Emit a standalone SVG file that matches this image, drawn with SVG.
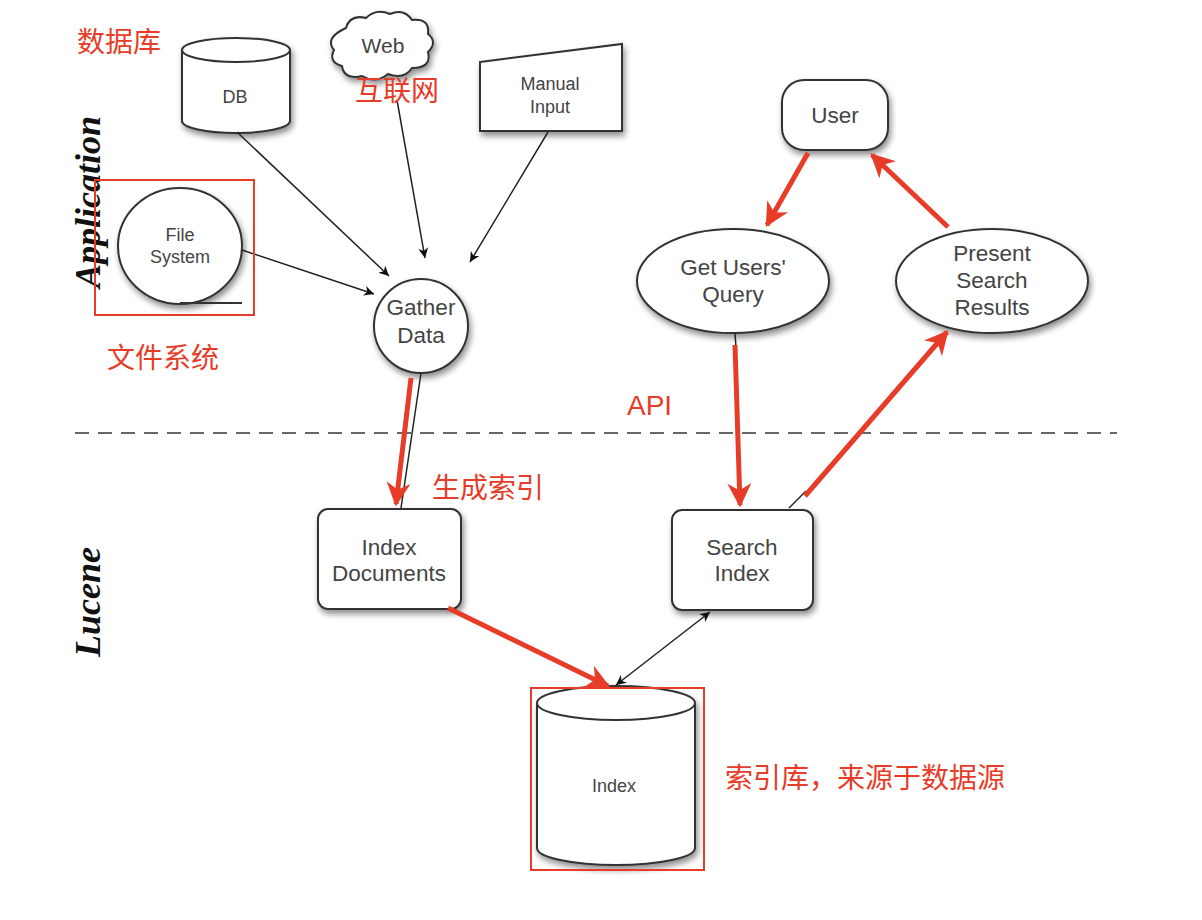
<svg xmlns="http://www.w3.org/2000/svg" width="1202" height="920" viewBox="0 0 1202 920">
<style>
.n{fill:#fff;stroke:#333;stroke-width:2;filter:url(#sh)}
.t{font-family:"Liberation Sans",Arial,sans-serif;fill:#444;text-anchor:middle}
.s{font-size:18px}
.m{font-size:22.5px}
.r{font-family:"Liberation Sans","Noto Sans CJK SC",sans-serif;fill:#e63c28;font-size:28px}
.lane{font-family:"Liberation Serif",serif;font-style:italic;font-weight:bold;font-size:36px;fill:#111;text-anchor:middle}
.k{stroke:#222;stroke-width:1.5;fill:none}
.rd{stroke:#e63c28;stroke-width:5;fill:none}
.box{fill:none;stroke:#e63c28;stroke-width:2}
</style>
<defs>
<filter id="sh" x="-20%" y="-20%" width="150%" height="150%">
<feGaussianBlur in="SourceAlpha" stdDeviation="3"/>
<feOffset dx="2" dy="4" result="b"/>
<feComponentTransfer><feFuncA type="linear" slope="0.45"/></feComponentTransfer>
<feMerge><feMergeNode/><feMergeNode in="SourceGraphic"/></feMerge>
</filter>
<marker id="ak" viewBox="0 0 10 10" refX="10" refY="5" markerWidth="10" markerHeight="10" markerUnits="userSpaceOnUse" orient="auto-start-reverse"><path d="M0,0 L10,5 L0,10 L3,5 z" fill="#111"/></marker>
<marker id="ar" viewBox="0 0 10 10" refX="9" refY="5" markerWidth="24" markerHeight="24" markerUnits="userSpaceOnUse" orient="auto"><path d="M0,0 L10,5 L0,10 L3,5 z" fill="#e63c28"/></marker>
</defs>
<rect width="1202" height="920" fill="#fff"/>

<text class="lane" transform="translate(100,202) rotate(-90)">Application</text>
<text class="lane" transform="translate(100,602) rotate(-90)">Lucene</text>
<line x1="75" y1="433" x2="1117" y2="433" stroke="#666" stroke-width="2" stroke-dasharray="14,9"/>

<g id="db">
<path class="n" d="M182,50 v71 a54,12 0 0 0 108,0 v-71 a54,12 0 0 0 -108,0 z"/>
<path d="M182,50 a54,12 0 0 0 108,0" fill="none" stroke="#333" stroke-width="2"/>
<text class="t s" x="235" y="103">DB</text>
</g>
<g id="web">
<path class="n" d="M346,28 q4,-14 20,-10 q10,-10 24,-4 q14,-6 22,6 q18,-2 16,14 q10,8 0,18 q4,16 -16,16 q-8,12 -24,6 q-12,10 -26,2 q-18,4 -20,-10 q-14,-4 -8,-16 q-10,-12 12,-22 z"/>
<text class="t" x="383" y="53" font-size="21">Web</text>
</g>
<g id="manual">
<path class="n" d="M480,62 L622,44 L622,131 L480,131 z"/>
<text class="t s" x="550" y="90">Manual</text>
<text class="t s" x="550" y="113">Input</text>
</g>
<g id="filesystem">
<ellipse class="n" cx="180" cy="246" rx="62" ry="58"/>
<line x1="180" y1="303" x2="242" y2="303" stroke="#333" stroke-width="2"/>
<text class="t s" x="180" y="241">File</text>
<text class="t s" x="180" y="263">System</text>
</g>
<g id="gather">
<circle class="n" cx="421" cy="326" r="47"/>
<text class="t m" x="421" y="315">Gather</text>
<text class="t m" x="421" y="343">Data</text>
</g>
<g id="user">
<rect class="n" x="782" y="80" width="106" height="70" rx="22"/>
<text class="t m" x="835" y="123">User</text>
</g>
<g id="getquery">
<ellipse class="n" cx="733" cy="281" rx="96" ry="52"/>
<text class="t m" x="733" y="275">Get Users'</text>
<text class="t m" x="733" y="302">Query</text>
</g>
<g id="present">
<ellipse class="n" cx="992" cy="281" rx="96" ry="52"/>
<text class="t m" x="992" y="261">Present</text>
<text class="t m" x="992" y="288">Search</text>
<text class="t m" x="992" y="315">Results</text>
</g>
<g id="indexdocs">
<rect class="n" x="318" y="509" width="143" height="100" rx="10"/>
<text class="t m" x="389" y="555">Index</text>
<text class="t m" x="389" y="581">Documents</text>
</g>
<g id="searchindex">
<rect class="n" x="672" y="510" width="141" height="100" rx="10"/>
<text class="t m" x="742" y="555">Search</text>
<text class="t m" x="742" y="581">Index</text>
</g>
<g id="index">
<path class="n" d="M537,703 v145 a79,17 0 0 0 158,0 v-145 a79,17 0 0 0 -158,0 z"/>
<path d="M537,703 a79,17 0 0 0 158,0" fill="none" stroke="#333" stroke-width="2"/>
<text class="t s" x="614" y="792">Index</text>
</g>

<g id="connectors">
<line class="k" x1="237" y1="132" x2="389" y2="276" marker-end="url(#ak)"/>
<line class="k" x1="397" y1="100" x2="425" y2="258" marker-end="url(#ak)"/>
<line class="k" x1="548" y1="132" x2="470" y2="262" marker-end="url(#ak)"/>
<line class="k" x1="242" y1="250" x2="374" y2="294" marker-end="url(#ak)"/>
<line class="k" x1="421" y1="373" x2="401" y2="508"/>
<line class="rd" x1="411" y1="378" x2="396" y2="504" marker-end="url(#ar)"/>
<line class="rd" x1="808" y1="153" x2="767" y2="225" marker-end="url(#ar)"/>
<line class="rd" x1="948" y1="227" x2="872" y2="155" marker-end="url(#ar)"/>
<line class="k" x1="735" y1="333" x2="736" y2="348"/>
<line class="rd" x1="735" y1="345" x2="740" y2="505" marker-end="url(#ar)"/>
<line class="k" x1="789" y1="508" x2="806" y2="491"/>
<line class="rd" x1="805" y1="496" x2="947" y2="332" marker-end="url(#ar)"/>
<line class="rd" x1="448" y1="608" x2="608" y2="686" marker-end="url(#ar)"/>
<line class="k" x1="710" y1="612" x2="616" y2="685" marker-start="url(#ak)" marker-end="url(#ak)"/>
</g>

<rect class="box" x="95" y="180" width="159" height="135"/>
<rect class="box" x="531" y="688" width="173" height="182"/>

<text class="r" x="77" y="52">数据库</text>
<text class="r" x="355" y="101">互联网</text>
<text class="r" x="107" y="368">文件系统</text>
<text class="r" x="627" y="415">API</text>
<text class="r" x="432" y="498">生成索引</text>
<text class="r" x="725" y="788">索引库，来源于数据源</text>
</svg>
